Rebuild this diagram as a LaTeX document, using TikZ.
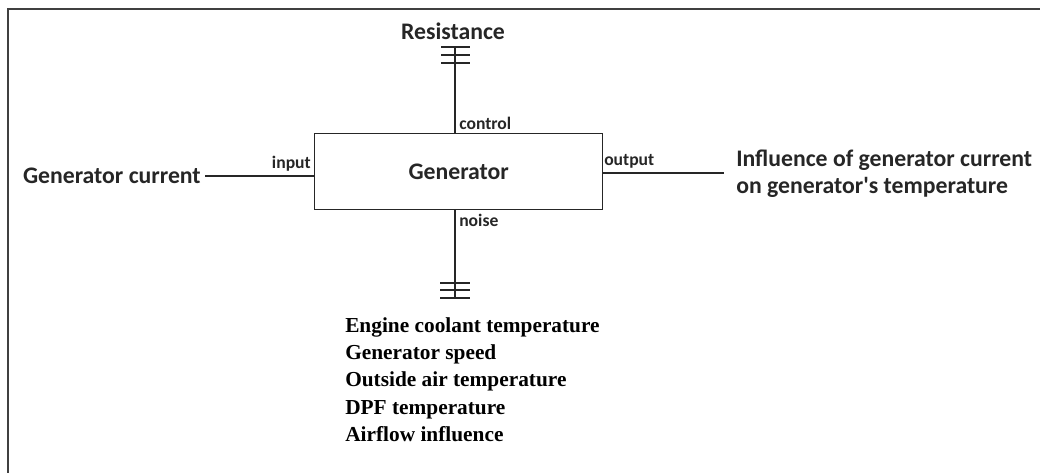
\documentclass[tikz,border=0pt]{standalone}
\usepackage{fontspec}
\setmainfont{Carlito}
\newfontfamily\timesfont{Liberation Serif}
\begin{document}
\begin{tikzpicture}[x=0.75pt,y=-0.75pt,
  line/.style={draw=black!85, line width=1.1pt},
  big/.style={font=\fontsize{17.8}{21}\selectfont\bfseries, text=black!85, inner sep=0pt},
  small/.style={font=\fontsize{13.2}{15}\selectfont\bfseries, text=black!85, inner sep=0pt},
  list/.style={font=\timesfont\fontsize{16}{20.6}\selectfont\bfseries, align=left, inner sep=0pt}]
\useasboundingbox (0,0) rectangle (1040,473);
\fill[white] (0,0) rectangle (1040,473);
% frame
\draw[draw=black!75, line width=1.1pt] (8,473) -- (8,9) -- (1040,9);
% box
\node[line, minimum width=288*0.75pt, minimum height=76*0.75pt, inner sep=0pt, anchor=north west,
      font=\fontsize{17.8}{21}\selectfont\bfseries, text=black!85] (gen) at (314,133) {Generator};
% control
\coordinate (ctop) at (455,47);
\draw[line] (ctop) -- (gen.north -| ctop);
\foreach \yy in {47,55,63} \draw[line] (441,\yy) -- (470,\yy);
\node[big] (res) at (453,31) {Resistance};
\node[small, anchor=south west] (ctl) at (459,130) {control};
% noise
\coordinate (nbot) at (455,298);
\draw[line] (gen.south -| nbot) -- (nbot);
\foreach \yy in {283,290,298} \draw[line] (440,\yy) -- (470,\yy);
\node[small, anchor=north west] (noi) at (459,214) {noise};
% input
\node[big, anchor=east] (gc) at (201,176) {Generator current};
\draw[line] (gc.east) ++(4,0) coordinate (inl) -- (gen.west |- inl);
\node[small, anchor=south east] (inp) at (311,172) {input};
% output
\coordinate (outr) at (724,173);
\draw[line] (gen.east |- outr) -- (outr);
\node[small, anchor=south west] (outp) at (604,169) {output};
\node[big, anchor=west, align=left, font=\fontsize{17.8}{20.5}\selectfont\bfseries] (infl) at (736,174) {Influence of generator current\\on generator\textquotesingle s temperature};
% list
\node[list, anchor=north west] (lst) at (345,317) {Engine coolant temperature\\Generator speed\\Outside air temperature\\DPF temperature\\Airflow influence};
\end{tikzpicture}
\end{document}
